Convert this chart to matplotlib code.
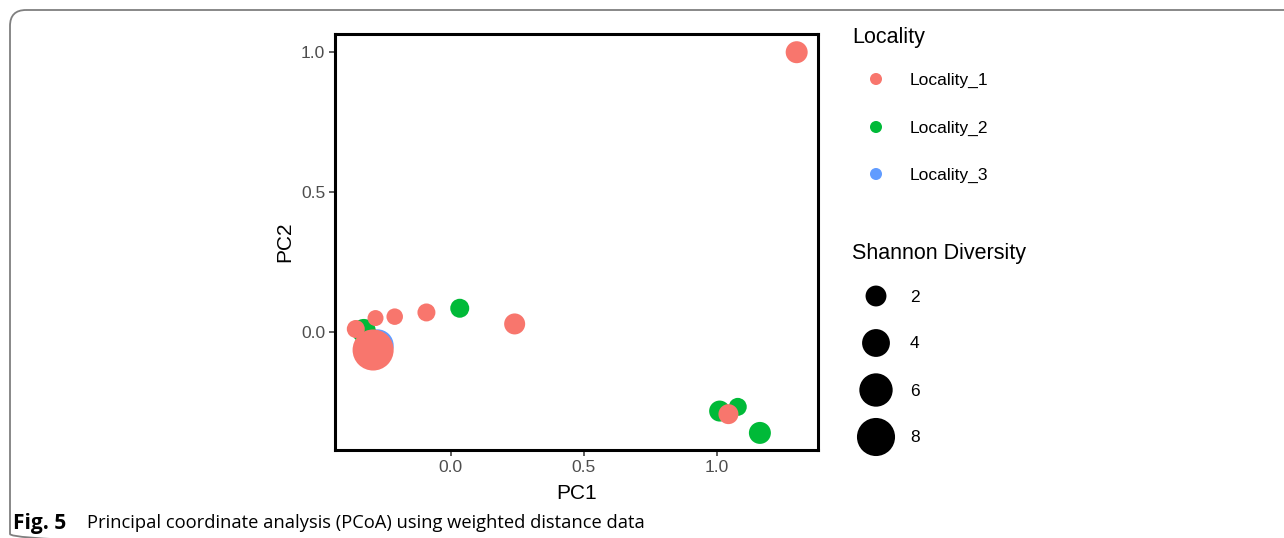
import matplotlib
matplotlib.use("Agg")
import matplotlib.pyplot as plt
from matplotlib.patches import FancyBboxPatch

plt.rcParams['font.family'] = ['Liberation Sans', 'DejaVu Sans']

# ---- data ----
loc1_x = [1.298, 0.240, -0.091, -0.210, -0.282, -0.356, -0.291, 1.042]
loc1_y = [0.999, 0.029, 0.070, 0.055, 0.050, 0.011, -0.064, -0.293]
loc1_div = [2.28, 2.03, 1.33, 1.03, 0.93, 1.33, 9.4, 1.78]

loc2_x = [0.034, -0.326, 1.009, 1.077, 1.160]
loc2_y = [0.085, 0.004, -0.282, -0.267, -0.360]
loc2_div = [1.55, 2.83, 2.03, 1.33, 2.28]

loc3_x = [-0.276]
loc3_y = [-0.046]
loc3_div = [5.6]

localities = ["Locality_1", "Locality_2", "Locality_3"]
colors = ["#F8766D", "#00BA38", "#619CFF"]
size_breaks = [2, 4, 6, 8]
x_ticks = [0.0, 0.5, 1.0]
y_ticks = [0.0, 0.5, 1.0]


def size_of(v):
    if isinstance(v, (list, tuple)):
        return [size_of(i) for i in v]
    return 51.06 + 87.6 * v


W, H = 1284, 538
fig = plt.figure(figsize=(W / 100, H / 100), dpi=100)

# overlay in pixel coordinates (border, caption, legend)
ov = fig.add_axes([0, 0, 1, 1], zorder=0)
ov.set_xlim(0, W)
ov.set_ylim(H, 0)
ov.axis("off")
ov.patch.set_alpha(0)
border = FancyBboxPatch((10, 10), 1400, 540, boxstyle="round,pad=0,rounding_size=16",
                        fill=False, edgecolor="#7f7f7f", linewidth=1.3, clip_on=False)
ov.add_patch(border)

# caption
ov.text(13, 523, "Fig. 5", fontsize=15, fontweight="bold",
        family=["Open Sans", "DejaVu Sans"], va="center", ha="left")
ov.text(87, 523, "Principal coordinate analysis (PCoA) using weighted distance data",
        fontsize=13.2, family=["Open Sans", "DejaVu Sans"], va="center", ha="left")

# main axes
ax = fig.add_axes([335 / W, 1 - 450 / H, (818 - 335) / W, (450 - 34) / H], zorder=2)
ax.scatter(loc3_x, loc3_y, s=size_of(loc3_div), c=colors[2], linewidths=0)
ax.scatter(loc2_x, loc2_y, s=size_of(loc2_div), c=colors[1], linewidths=0)
ax.scatter(loc1_x, loc1_y, s=size_of(loc1_div), c=colors[0], linewidths=0)

ax.set_xlim(-0.434, 1.378)
ax.set_ylim(-0.421, 1.064)
ax.set_xticks(x_ticks)
ax.set_yticks(y_ticks)
ax.set_xticklabels([f"{t:.1f}" for t in x_ticks])
ax.set_yticklabels([f"{t:.1f}" for t in y_ticks])
for sp in ax.spines.values():
    sp.set_linewidth(2.2)
    sp.set_color("black")
ax.tick_params(length=4, width=1.1, color="#333333", labelsize=12.5,
               labelcolor="#4D4D4D", pad=3)
ax.set_xlabel("PC1", fontsize=15, labelpad=7)
ax.set_ylabel("PC2", fontsize=15, labelpad=5)

# legend: Locality
ov.text(852, 38, "Locality", fontsize=15.5, va="center", ha="left")
leg_y = [79, 127, 174]
ov.scatter([876] * 3, leg_y, s=75, c=colors, linewidths=0)
for yy, lab in zip(leg_y, localities):
    ov.text(910, yy + 1, lab, fontsize=12.5, va="center", ha="left")

# legend: Shannon Diversity
ov.text(852, 254, "Shannon Diversity", fontsize=15.5, va="center", ha="left")
sz_y = [296, 343, 390, 437]
ov.scatter([876] * 4, sz_y, s=size_of(size_breaks), c="black", linewidths=0)
for yy, b in zip(sz_y, size_breaks):
    ov.text(910, yy + 1, str(b), fontsize=12.5, va="center", ha="left")

fig.savefig("out.png", dpi=100)
